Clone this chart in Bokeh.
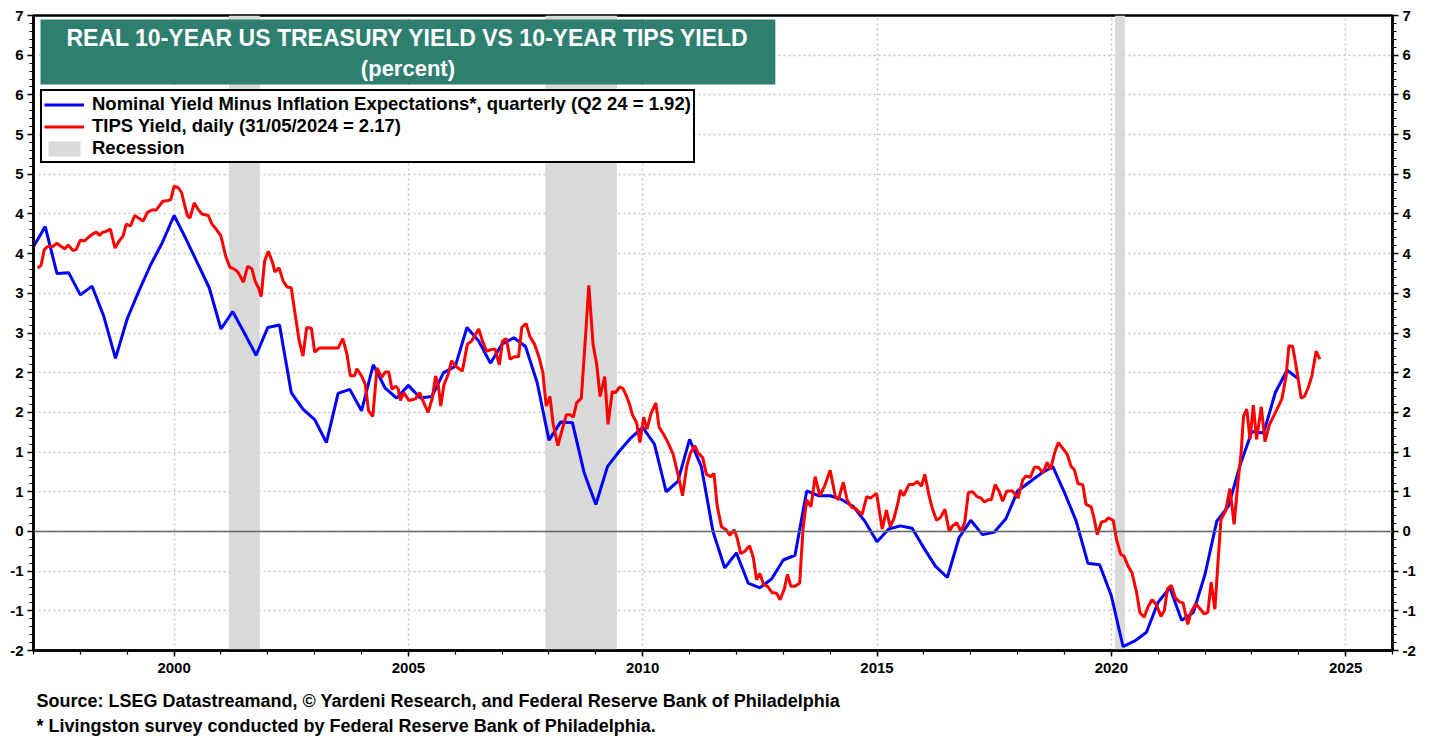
from bokeh.plotting import figure
from bokeh.models import (Range1d, FixedTicker, LinearAxis, Legend, LegendItem,
                          Label, BoxAnnotation, Span, Title, ColumnDataSource)
from bokeh.embed import file_html
from bokeh.resources import INLINE

FONT = "Liberation Sans"

# ---------------- data ----------------
title_line1 = "REAL 10-YEAR US TREASURY YIELD VS 10-YEAR TIPS YIELD"
title_line2 = "(percent)"
blue_label = "Nominal Yield Minus Inflation Expectations*, quarterly (Q2 24 = 1.92)"
red_label = "TIPS Yield, daily (31/05/2024 = 2.17)"
rec_label = "Recession"
footer1 = "Source: LSEG Datastreamand, \u00a9 Yardeni Research, and Federal Reserve Bank of Philadelphia"
footer2 = "* Livingston survey conducted by Federal Reserve Bank of Philadelphia."

# quarterly series, first quarter = 1997 Q1
blue_first_year = 1997.0
blue_vals = [
    3.59, 3.84, 3.25, 3.26,      # 1997
    2.98, 3.09, 2.71, 2.18,      # 1998
    2.68, 3.03, 3.36, 3.64,      # 1999
    3.98, 3.69, 3.38, 3.07,      # 2000
    2.55, 2.77, 2.50, 2.22,      # 2001
    2.57, 2.60, 1.75, 1.54,      # 2002
    1.41, 1.12, 1.74, 1.79,      # 2003
    1.52, 2.10, 1.81, 1.68,      # 2004
    1.84, 1.68, 1.70, 2.00,      # 2005
    2.08, 2.57, 2.40, 2.12,      # 2006
    2.36, 2.44, 2.33, 1.87,      # 2007
    1.15, 1.38, 1.37, 0.74,      # 2008
    0.34, 0.82, 1.01, 1.18,      # 2009
    1.31, 1.10, 0.50, 0.63,      # 2010
    1.16, 0.82, 0.00, -0.46,     # 2011
    -0.27, -0.65, -0.71, -0.60,  # 2012
    -0.36, -0.30, 0.51, 0.45,    # 2013
    0.45, 0.40, 0.31, 0.12,      # 2014
    -0.13, 0.03, 0.07, 0.04,     # 2015
    -0.21, -0.44, -0.58, -0.08,  # 2016
    0.14, -0.04, -0.01, 0.16,    # 2017
    0.51, 0.62, 0.73, 0.82,      # 2018
    0.49, 0.13, -0.40, -0.42,    # 2019
    -0.81, -1.45, -1.38, -1.27,  # 2020
    -0.89, -0.71, -1.12, -1.02,  # 2021
    -0.54, 0.13, 0.32, 0.84,     # 2022
    1.26, 1.24, 1.75, 2.03,      # 2023
    1.92,                        # 2024
]
blue_dates = [blue_first_year + 0.25 * i for i in range(len(blue_vals))]

red_dates = [
    1997.09, 1997.16, 1997.23, 1997.30, 1997.41, 1997.50, 1997.59, 1997.67, 1997.74, 1997.84, 1997.91,
    1998.00, 1998.09, 1998.16, 1998.27, 1998.34, 1998.41, 1998.48, 1998.55, 1998.64, 1998.74, 1998.84, 1998.91, 1998.98,
    1999.07, 1999.16, 1999.24, 1999.34, 1999.43, 1999.53, 1999.62, 1999.76, 1999.87, 1999.93,
    2000.00, 2000.09, 2000.16, 2000.23, 2000.29, 2000.34, 2000.43, 2000.51, 2000.59, 2000.73, 2000.81, 2000.91,
    2001.00, 2001.10, 2001.19, 2001.30, 2001.37, 2001.48, 2001.57, 2001.66, 2001.73, 2001.80, 2001.86, 2001.93,
    2002.01, 2002.10, 2002.15, 2002.24, 2002.33, 2002.41, 2002.50, 2002.58, 2002.67, 2002.75, 2002.83, 2002.93,
    2003.00, 2003.10, 2003.30, 2003.50, 2003.60, 2003.69, 2003.76, 2003.85, 2003.90,
    2004.00, 2004.08, 2004.15, 2004.24, 2004.33, 2004.43, 2004.51, 2004.58, 2004.65, 2004.73, 2004.78, 2004.83, 2004.90,
    2005.01, 2005.15, 2005.24, 2005.33, 2005.42, 2005.51, 2005.58, 2005.64, 2005.69, 2005.76, 2005.85, 2005.92,
    2006.01, 2006.15, 2006.26, 2006.35, 2006.50, 2006.58, 2006.67, 2006.76, 2006.85, 2006.94,
    2007.01, 2007.09, 2007.17, 2007.26, 2007.35, 2007.42, 2007.51, 2007.59, 2007.69, 2007.79, 2007.87, 2007.94,
    2008.02, 2008.09, 2008.19, 2008.28, 2008.37, 2008.45, 2008.52, 2008.59, 2008.69, 2008.78, 2008.85, 2008.94,
    2009.02, 2009.09, 2009.19, 2009.26, 2009.35, 2009.42, 2009.51, 2009.58, 2009.65, 2009.72, 2009.78, 2009.87, 2009.94,
    2010.02, 2010.09, 2010.18, 2010.28, 2010.35, 2010.43, 2010.54, 2010.65, 2010.76, 2010.85, 2010.94,
    2011.02, 2011.11, 2011.18, 2011.28, 2011.36, 2011.45, 2011.52, 2011.59, 2011.68, 2011.78, 2011.86, 2011.95,
    2012.02, 2012.09, 2012.18, 2012.28, 2012.36, 2012.43, 2012.50, 2012.58, 2012.66, 2012.76, 2012.86, 2012.93,
    2013.02, 2013.09, 2013.16, 2013.25, 2013.35, 2013.42, 2013.50, 2013.59, 2013.68, 2013.78, 2013.88,
    2014.00, 2014.11, 2014.18, 2014.28, 2014.36, 2014.45, 2014.56, 2014.68, 2014.78, 2014.86, 2014.99,
    2015.11, 2015.20, 2015.28, 2015.36, 2015.45, 2015.50, 2015.57, 2015.68, 2015.77, 2015.86, 2015.95,
    2016.02, 2016.11, 2016.18, 2016.27, 2016.36, 2016.45, 2016.54, 2016.61, 2016.70, 2016.79, 2016.87, 2016.95,
    2017.04, 2017.13, 2017.22, 2017.29, 2017.37, 2017.44, 2017.52, 2017.61, 2017.68, 2017.77, 2017.89,
    2018.01, 2018.11, 2018.18, 2018.27, 2018.36, 2018.44, 2018.54, 2018.63, 2018.70, 2018.79, 2018.87, 2018.96,
    2019.06, 2019.14, 2019.21, 2019.29, 2019.39, 2019.46, 2019.57, 2019.63, 2019.70, 2019.79, 2019.87, 2019.94,
    2020.04, 2020.11, 2020.20, 2020.27, 2020.36, 2020.44, 2020.54, 2020.61, 2020.70, 2020.79, 2020.87, 2020.96,
    2021.06, 2021.13, 2021.20, 2021.28, 2021.37, 2021.46, 2021.53, 2021.63, 2021.70, 2021.80, 2021.89, 2021.98,
    2022.06, 2022.13, 2022.21, 2022.28, 2022.34, 2022.44, 2022.53, 2022.62, 2022.70, 2022.77, 2022.82, 2022.89, 2022.96,
    2023.03, 2023.10, 2023.20, 2023.28, 2023.37, 2023.46, 2023.56, 2023.64, 2023.73, 2023.79, 2023.87, 2023.96,
    2024.05, 2024.12, 2024.20, 2024.28, 2024.37, 2024.45,
]
red_vals = [
    3.32, 3.35, 3.55, 3.59, 3.59, 3.63, 3.59, 3.56, 3.61, 3.54, 3.55,
    3.67, 3.66, 3.70, 3.75, 3.77, 3.73, 3.77, 3.78, 3.81, 3.57, 3.67, 3.72, 3.87,
    3.85, 3.98, 3.95, 3.91, 4.02, 4.05, 4.05, 4.16, 4.17, 4.18,
    4.35, 4.33, 4.27, 4.10, 3.97, 3.95, 4.14, 4.06, 4.00, 3.98, 3.87, 3.80,
    3.72, 3.47, 3.33, 3.30, 3.26, 3.14, 3.34, 3.31, 3.15, 3.07, 2.96, 3.40,
    3.53, 3.39, 3.27, 3.32, 3.15, 3.08, 3.07, 2.75, 2.40, 2.21, 2.57, 2.56,
    2.26, 2.31, 2.31, 2.31, 2.43, 2.23, 1.96, 1.96, 2.05,
    1.96, 1.85, 1.52, 1.45, 2.06, 1.94, 2.01, 2.01, 1.79, 1.83, 1.80, 1.65, 1.75,
    1.65, 1.67, 1.75, 1.62, 1.50, 1.68, 1.96, 1.83, 1.58, 1.85, 1.98, 2.15,
    2.08, 2.02, 2.36, 2.40, 2.55, 2.40, 2.27, 2.29, 2.30, 2.10,
    2.40, 2.43, 2.17, 2.20, 2.20, 2.57, 2.62, 2.46, 2.36, 2.19, 2.00, 1.58,
    1.70, 1.35, 1.08, 1.28, 1.47, 1.47, 1.44, 1.62, 1.68, 2.46, 3.10, 2.36,
    2.10, 1.70, 1.95, 1.35, 1.76, 1.75, 1.82, 1.80, 1.71, 1.60, 1.47, 1.37, 1.12,
    1.44, 1.29, 1.49, 1.62, 1.31, 1.24, 1.12, 0.97, 0.70, 0.45, 0.82,
    0.99, 1.08, 0.99, 0.93, 0.72, 0.69, 0.73, 0.32, 0.06, 0.02, -0.05, 0.02,
    -0.09, -0.28, -0.25, -0.18, -0.33, -0.61, -0.53, -0.67, -0.69, -0.77, -0.78, -0.86,
    -0.73, -0.54, -0.69, -0.69, -0.65, 0.03, 0.40, 0.31, 0.69, 0.45, 0.57,
    0.77, 0.44, 0.40, 0.62, 0.40, 0.31, 0.28, 0.21, 0.44, 0.42, 0.48,
    0.03, 0.27, 0.06, 0.16, 0.37, 0.52, 0.45, 0.59, 0.59, 0.63, 0.57,
    0.72, 0.45, 0.29, 0.14, 0.18, 0.28, 0.00, 0.07, 0.11, 0.00, 0.11, 0.49,
    0.50, 0.44, 0.42, 0.37, 0.40, 0.40, 0.59, 0.50, 0.38, 0.51, 0.51,
    0.42, 0.65, 0.70, 0.68, 0.81, 0.81, 0.74, 0.87, 0.78, 0.99, 1.12, 1.05,
    0.97, 0.82, 0.78, 0.60, 0.59, 0.34, 0.31, 0.17, -0.04, 0.12, 0.13, 0.17,
    0.14, -0.10, -0.29, -0.31, -0.44, -0.52, -0.77, -1.02, -1.08, -0.94, -0.86, -0.92,
    -1.07, -1.00, -0.72, -0.68, -0.84, -0.89, -0.90, -1.17, -1.02, -0.91, -0.97, -1.04,
    -1.02, -0.64, -0.98, -0.35, 0.15, 0.26, 0.54, 0.09, 0.61, 0.99, 1.45, 1.54, 1.16,
    1.59, 1.16, 1.57, 1.13, 1.34, 1.45, 1.57, 1.67, 1.96, 2.34, 2.33, 2.02,
    1.68, 1.70, 1.81, 1.96, 2.27, 2.17,
]

rec_start = [2001.17, 2007.92, 2020.08]
rec_end = [2001.83, 2009.45, 2020.29]

x_min, x_max = 1997.0, 2026.0
y_min, y_max = -1.5, 6.5
x_major_ticks = [2000, 2005, 2010, 2015, 2020, 2025]
x_minor_ticks = list(range(1997, 2027))
y_major_ticks = [-1.5, -1.0, -0.5, 0, 0.5, 1.0, 1.5, 2.0, 2.5, 3.0, 3.5, 4.0, 4.5, 5.0, 5.5, 6.0, 6.5]
y_tick_labels = ["-2", "-1", "-1", "0", "1", "1", "2", "2", "3", "3", "4", "4", "5", "5", "6", "6", "7"]
y_minor_ticks = [round(-1.5 + 0.1 * i, 2) for i in range(81)]

# ---------------- figure ----------------
p = figure(width=1432, height=738, x_range=Range1d(x_min, x_max), y_range=Range1d(y_min, y_max),
           output_backend="svg", toolbar_location=None,
           min_border_left=33, min_border_right=40, min_border_top=15, min_border_bottom=88)
p.background_fill_color = "white"
p.border_fill_color = "white"
p.outline_line_color = "black"
p.outline_line_width = 2.5
p.outline_line_alpha = 1.0

# recessions
rec_src = ColumnDataSource(dict(left=rec_start, right=rec_end,
                                bottom=[y_min] * len(rec_start), top=[y_max] * len(rec_start)))
rec_r = p.quad(left="left", right="right", bottom="bottom", top="top", source=rec_src,
               fill_color="#d9d9d9", line_color=None)

# grid
for g, tk in ((p.xgrid, x_major_ticks), (p.ygrid, y_major_ticks)):
    g.ticker = FixedTicker(ticks=tk)
    g.grid_line_color = "#c4c4c4"
    g.grid_line_dash = "2 3"
    g.grid_line_width = 1.5

zero = Span(location=0, dimension="width", line_color="#666666", line_width=1.5)
p.add_layout(zero)

blue_r = p.line(blue_dates, blue_vals, line_color="#0000ff", line_width=3)
red_r = p.line(red_dates, red_vals, line_color="#ff0000", line_width=3)

# axes
overrides = {t: s for t, s in zip(y_major_ticks, y_tick_labels)}

def style_axis(ax):
    ax.axis_line_color = "black"
    ax.axis_line_width = 2.5
    ax.major_tick_line_color = "black"
    ax.minor_tick_line_color = "black"
    ax.major_tick_line_width = 1.5
    ax.minor_tick_line_width = 1.2
    ax.major_tick_in = 0
    ax.minor_tick_in = 0
    ax.major_tick_out = 6
    ax.minor_tick_out = 4
    ax.major_label_text_font = FONT
    ax.major_label_text_font_style = "bold"
    ax.major_label_text_font_size = "15px"
    ax.major_label_text_color = "black"

p.xaxis.ticker = FixedTicker(ticks=x_major_ticks, minor_ticks=x_minor_ticks)
style_axis(p.xaxis[0])
p.xaxis.major_label_standoff = 6

p.yaxis.ticker = FixedTicker(ticks=y_major_ticks, minor_ticks=y_minor_ticks)
p.yaxis.major_label_overrides = overrides
style_axis(p.yaxis[0])
p.yaxis.major_label_standoff = 4

ry = LinearAxis(ticker=FixedTicker(ticks=y_major_ticks, minor_ticks=y_minor_ticks),
                major_label_overrides=overrides)
style_axis(ry)
ry.major_label_standoff = 4
p.add_layout(ry, "right")

# title box
p.add_layout(BoxAnnotation(left=1997.15, right=2012.83, top=6.45, bottom=5.63,
                           fill_color="#2e7f70", fill_alpha=1.0, line_color=None))
p.add_layout(Label(x=2004.99, y=6.22, text=title_line1, text_align="center", text_baseline="middle",
                   text_color="white", text_font=FONT, text_font_style="bold", text_font_size="23px"))
p.add_layout(Label(x=2004.99, y=5.83, text=title_line2, text_align="center", text_baseline="middle",
                   text_color="white", text_font=FONT, text_font_style="bold", text_font_size="22px"))

# legend
legend = Legend(items=[LegendItem(label=blue_label, renderers=[blue_r]),
                       LegendItem(label=red_label, renderers=[red_r]),
                       LegendItem(label=rec_label, renderers=[rec_r])],
                location=(7, 487), border_line_color="black", border_line_width=2, border_line_alpha=1.0,
                background_fill_color="white", background_fill_alpha=1.0,
                label_text_font=FONT, label_text_font_style="bold", label_text_font_size="18.5px",
                label_text_color="black",
                glyph_width=40, glyph_height=19, label_height=19, spacing=0, padding=2,
                label_standoff=8, margin=0)
p.add_layout(legend)

# footer
for txt, so in ((footer1, 26), (footer2, -20)):
    t = Title(text=txt, align="left", text_font=FONT, text_font_style="bold",
              text_font_size="18px", text_color="black", offset=3, standoff=so)
    p.add_layout(t, "below")

open("out.html", "w").write(file_html(p, INLINE))
